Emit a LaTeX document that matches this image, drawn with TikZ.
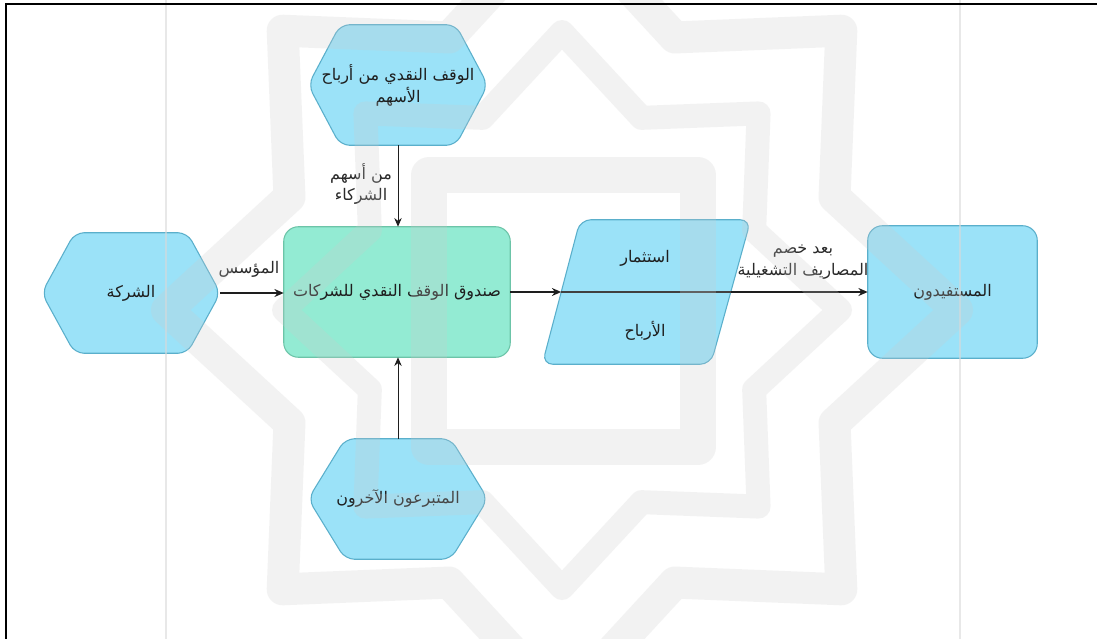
\documentclass[tikz,border=0pt]{standalone}
\usepackage{fontspec}
\usetikzlibrary{calc,arrows.meta}
\TeXXeTstate=1
\newfontfamily\arabicfont[Script=Arabic]{DejaVu Sans}
\newcommand{\artext}[1]{\beginR #1\endR}

\definecolor{blueF}{HTML}{9BE2F8}
\definecolor{blueD}{HTML}{5AAFCB}
\definecolor{greenF}{HTML}{93EBD3}
\definecolor{greenD}{HTML}{6CC4A8}
\definecolor{txt}{HTML}{1E1E1E}
\definecolor{lab}{HTML}{2A2A2A}

\pgfdeclarelayer{shapes}
\pgfdeclarelayer{wm}
\pgfsetlayers{shapes,main,wm}

% hexagon outline around a named node, #2 = inset of the flat top edge
\newcommand{\hexaround}[2]{%
  \draw[hexshape] (#1.west) -- ($(#1.north west)+(#2,0)$) -- ($(#1.north east)+(-#2,0)$)
    -- (#1.east) -- ($(#1.south east)+(-#2,0)$) -- ($(#1.south west)+(#2,0)$) -- cycle;}

\begin{document}
\begin{tikzpicture}[x=0.75pt,y=-0.75pt,
  box/.style={inner sep=0pt, text=txt, align=center,
    font=\arabicfont\fontsize{12}{16.5}\selectfont},
  lbl/.style={inner sep=0pt, text=lab, align=center,
    font=\arabicfont\fontsize{12}{16}\selectfont},
  hexshape/.style={fill=blueF, draw=blueD, line width=0.8pt, rounded corners=7pt},
  flow/.style={draw=txt, line width=1.1pt, -{Stealth[length=7pt,width=6pt]}},
  flowthin/.style={draw=txt, line width=0.75pt, -{Stealth[length=6.5pt,width=5.5pt]}},
  wmark/.style={draw=black!20, draw opacity=0.24, line join=round}]

\useasboundingbox (0,0) rectangle (1097,639);

% nodes (text boxes)
\node[box, minimum width=179*0.75pt, minimum height=120*0.75pt] (hsrc) at (398,85)
  {\artext{الوقف النقدي من أرباح}\\\artext{الأسهم}};
\node[box, minimum width=178*0.75pt, minimum height=120*0.75pt] (comp) at (131,293)
  {\artext{الشركة}};
\node[box, minimum width=226*0.75pt, minimum height=130*0.75pt] (fund) at (397,292)
  {\artext{صندوق الوقف النقدي للشركات}};
\node[box, minimum width=179*0.75pt, minimum height=120*0.75pt] (donors) at (398,499)
  {\artext{المتبرعون الآخرون}};
\node[box, minimum width=169*0.75pt, minimum height=144*0.75pt] (inv) at (646,292) {};
\node[box] (invA) at (645,258) {\artext{استثمار}};
\node[box] (invB) at (645,331) {\artext{الأرباح}};
\node[box, minimum width=169*0.75pt, minimum height=132*0.75pt] (ben) at (952.5,292)
  {\artext{المستفيدون}};

% shapes behind the texts
\begin{pgfonlayer}{shapes}
  \fill[white] (0,0) rectangle (1097,639);
  \hexaround{hsrc}{32}
  \hexaround{comp}{33}
  \hexaround{donors}{37}
  \draw[fill=greenF, draw=greenD, line width=0.8pt, rounded corners=11pt]
    (fund.north west) rectangle (fund.south east);
  \draw[fill=blueF, draw=blueD, line width=0.8pt, rounded corners=8pt]
    ($(inv.north west)+(19,0)$) -- ($(inv.north east)+(20,0)$)
    -- ($(inv.south east)+(-20,0)$) -- ($(inv.south west)+(-19,0)$) -- cycle;
  \draw[fill=blueF, draw=blueD, line width=0.8pt, rounded corners=11pt]
    (ben.north west) rectangle (ben.south east);
\end{pgfonlayer}

% connectors
\draw[flowthin] (hsrc.south) -- (hsrc.south |- fund.north);
\draw[flowthin] (donors.north) -- (donors.north |- fund.south);
\draw[flow] (comp.east) -- (comp.east -| fund.west);
\draw[flow] (fund.east) -- (inv.west);
\draw[draw=txt!85, line width=1.8pt] (inv.west) -- (inv.east);
\draw[flow] (inv.east) -- (ben.west);

% connector labels
\node[lbl] (l1) at (361,184) {\artext{من أسهم}\\\artext{الشركاء}};
\node[lbl] (l2) at (249,269) {\artext{المؤسس}};
\node[lbl] (l3) at (803,262) {\artext{بعد خصم}\\\artext{المصاريف التشغيلية}};

% faint background emblem and page guides
\begin{pgfonlayer}{wm}
  \draw[wmark, line width=24pt]
    plot[samples at={0,22.5,...,337.5}]
    ({562+(345+50*cos(8*\x))*cos(\x)},{310+(345+50*cos(8*\x))*sin(\x)}) -- cycle;
  \draw[wmark, line width=18pt]
    plot[samples at={0,22.5,...,337.5}]
    ({562+(243+35*cos(8*\x))*cos(\x)},{310+(243+35*cos(8*\x))*sin(\x)}) -- cycle;
  \draw[wmark, line width=27pt] (429,175) rectangle (698,447);
  \draw[black!15, draw opacity=0.6, line width=1.2pt] (166,0) -- (166,639);
  \draw[black!15, draw opacity=0.6, line width=1.2pt] (960,0) -- (960,639);
  \draw[black, line width=1.7pt] (6.2,639) -- (6.2,3.7) -- (1097,3.7);
\end{pgfonlayer}
\end{tikzpicture}
\end{document}
